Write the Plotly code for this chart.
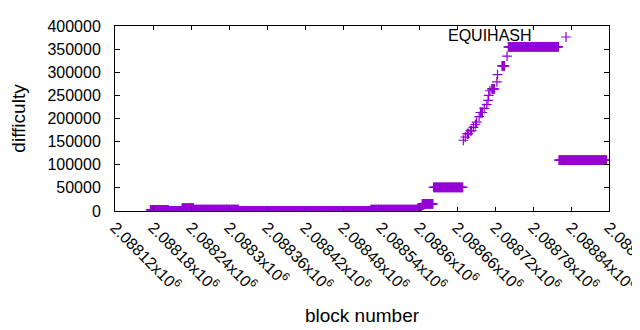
import plotly.graph_objects as go

# Difficulty data as constant runs: (first block, last block, difficulty)
run_start = [2088176, 2088205, 2088226, 2088245, 2088316, 2088524, 2088598, 2088602,
             2088605, 2088623,
             2088670, 2088673, 2088676, 2088681, 2088686, 2088689, 2088691, 2088695,
             2088697, 2088703, 2088707, 2088709, 2088710, 2088712, 2088715, 2088723,
             2088724, 2088731, 2088739, 2088741, 2088821]
run_end = [2088204, 2088225, 2088244, 2088315, 2088523, 2088597, 2088601, 2088604,
           2088622, 2088669,
           2088670, 2088673, 2088678, 2088683, 2088686, 2088689, 2088691, 2088695,
           2088700, 2088703, 2088707, 2088709, 2088710, 2088712, 2088719, 2088723,
           2088724, 2088735, 2088739, 2088820, 2088896]
run_value = [2500, 300, 6000, 3000, 400, 2800, 4500, 7500,
             15500, 51000,
             153000, 160000, 167000, 174000, 181000, 187000, 192000, 204000,
             213000, 222000, 230000, 239000, 250000, 260000, 264000, 279000,
             295000, 314000, 335000, 355000, 110000]

tick_vals = [2088120, 2088180, 2088240, 2088300, 2088360, 2088420, 2088480,
             2088540, 2088600, 2088660, 2088720, 2088780, 2088840, 2088900]
tick_text = ["2.08812x10<sup>6</sup>", "2.08818x10<sup>6</sup>", "2.08824x10<sup>6</sup>",
             "2.0883x10<sup>6</sup>", "2.08836x10<sup>6</sup>", "2.08842x10<sup>6</sup>",
             "2.08848x10<sup>6</sup>", "2.08854x10<sup>6</sup>", "2.0886x10<sup>6</sup>",
             "2.08866x10<sup>6</sup>", "2.08872x10<sup>6</sup>", "2.08878x10<sup>6</sup>",
             "2.08884x10<sup>6</sup>", "2.0889x10<sup>6</sup>"]

series_name = "EQUIHASH"

blocks, diffs = [], []
for s, e, v in zip(run_start, run_end, run_value):
    for b in range(s, e + 1):
        blocks.append(b)
        diffs.append(v)

COLOR = "#9400D3"
FONT = "Liberation Sans"

fig = go.Figure()
fig.add_trace(go.Scatter(
    x=blocks, y=diffs, mode="markers", name="",
    marker=dict(symbol="cross-thin", size=7, color=COLOR,
                line=dict(width=1.2, color=COLOR)),
    showlegend=True,
))

axis_common = dict(showline=True, linecolor="black", linewidth=1, mirror="ticks",
                   ticks="inside", tickcolor="black", showgrid=False, zeroline=False,
                   automargin=False, ticklabeloverflow="allow")

# gnuplot-style key: label text to the left of the point sample
fig.add_annotation(text=series_name, xref="paper", yref="paper", x=0.848, y=0.95,
                   xanchor="right", yanchor="middle", showarrow=False,
                   font=dict(family=FONT, size=16, color="black"))

# page body has an 8px margin, so the figure is shrunk by 8px and margins shifted
fig.update_layout(
    width=632, height=322,
    margin=dict(l=107, r=31, t=12, b=119, pad=0),
    paper_bgcolor="white", plot_bgcolor="white",
    font=dict(family=FONT, size=16, color="black"),
    xaxis=dict(range=[2088120, 2088900], tickvals=tick_vals, ticktext=tick_text,
               tickangle=45, ticklen=4, title=dict(text="block number", standoff=15),
               **axis_common),
    yaxis=dict(range=[0, 400000], dtick=50000, tickformat="d", ticklen=5,
               ticklabelstandoff=10,
               title=dict(text="difficulty", standoff=32), **axis_common),
    legend=dict(x=0.8725, y=0.94, xanchor="left", yanchor="middle",
                bgcolor="rgba(0,0,0,0)", borderwidth=0, itemwidth=30),
)

fig.write_html("out.html")
